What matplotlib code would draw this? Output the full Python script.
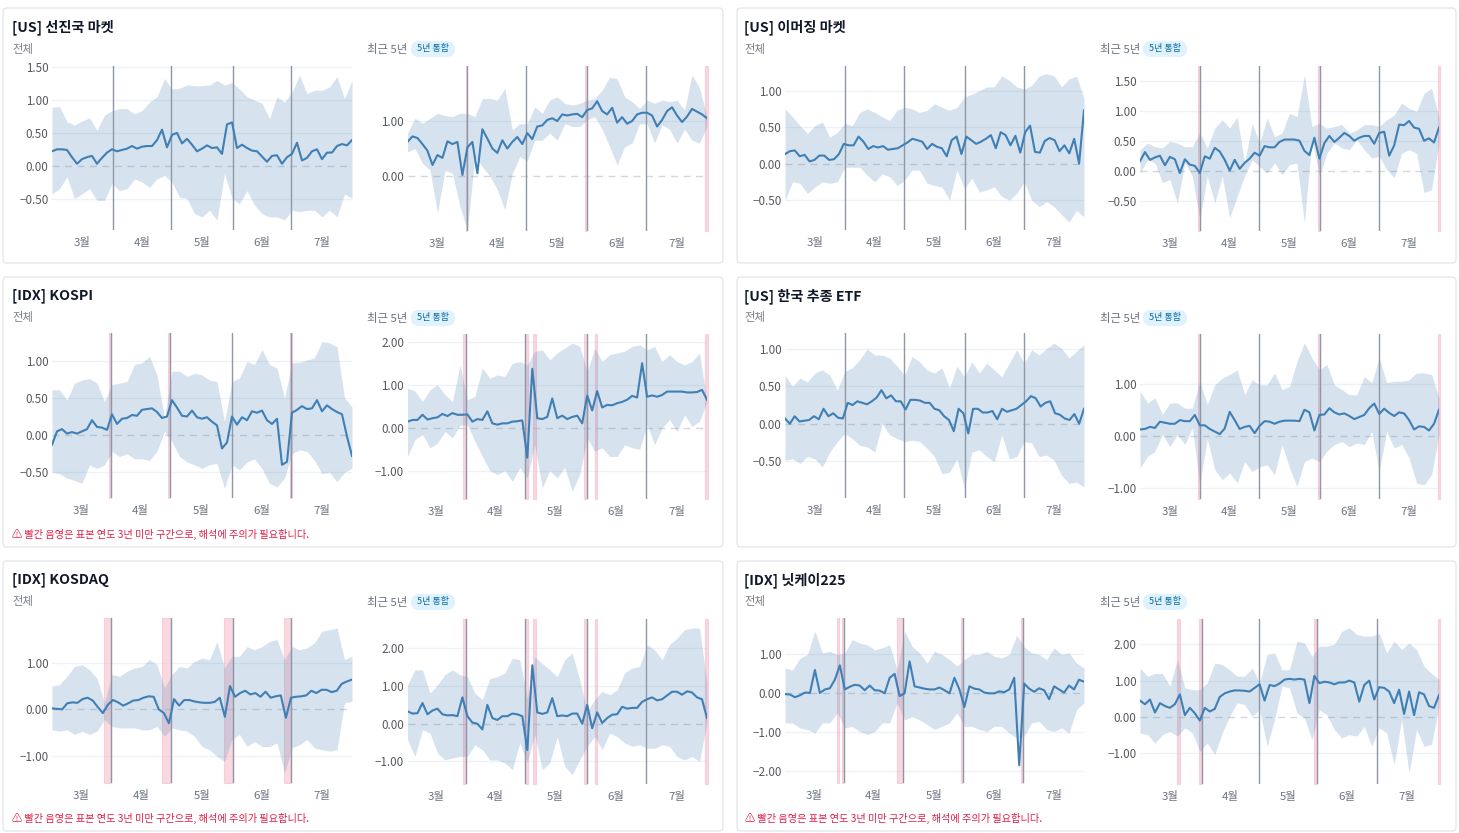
import matplotlib
matplotlib.use('Agg')
import matplotlib.pyplot as plt
from matplotlib.patches import FancyBboxPatch
import numpy as np

plt.rcParams['font.family'] = ['Noto Sans CJK KR', 'DejaVu Sans']
plt.rcParams['axes.unicode_minus'] = True

months = ['3월', '4월', '5월', '6월', '7월']

# [US] 선진국 마켓 - 전체
dev_all_mean = [.22,.25,.25,.24,.13,.03,.10,.13,.15,.03,.12,.20,.25,.22,.24,.26,.30,.26,.29,.30,.30,.39,.55,.28,.47,.50,.34,.41,.32,.22,.26,.31,.27,.28,.18,.63,.66,.27,.32,.27,.23,.22,.14,.06,.15,.16,.03,.13,.18,.35,.08,.12,.22,.25,.10,.20,.20,.30,.33,.31,.39]
dev_all_upper = [.89,.90,.67,.62,.68,.73,.54,.77,.84,.87,.87,.79,.84,.97,1.05,1.33,1.17,1.18,1.23,1.22,1.22,1.23,1.30,1.23,1.27,1.17,1.05,1.0,.95,.72,1.05,.97,1.12,1.38,1.10,1.15,1.15,1.2,1.36,1.02,1.30]
dev_all_lower = [-.43,-.35,-.17,-.50,-.43,-.35,-.53,-.53,-.27,-.38,-.35,-.20,-.25,-.33,-.20,-.15,-.25,-.48,-.50,-.73,-.78,-.68,-.83,-.12,-.50,-.58,-.38,-.60,-.73,-.78,-.78,-.83,-.68,-.70,-.68,-.68,-.78,-.68,-.78,-.43,-.50]
dev_all_gray = [20.2, 39.8, 60.2, 79.8]
dev_all_pink = []
dev_all_ticks = [10.0, 30.0, 50.0, 70.0, 90.0]
dev_all_yticks = [-.5, 0, .5, 1, 1.5]

# [US] 선진국 마켓 - 최근 5년
dev_5y_mean = [.62,.72,.69,.58,.46,.20,.38,.33,.63,.58,.62,.02,.52,.62,.05,.85,.68,.50,.42,.65,.50,.62,.71,.58,.78,.67,.90,.92,1.02,1.05,1.0,1.12,1.10,1.12,1.13,1.07,1.2,1.23,1.36,1.18,1.12,1.24,.97,1.07,.95,1.0,1.12,1.15,1.15,1.10,.9,1.02,1.18,1.25,1.1,.98,1.08,1.22,1.17,1.12,1.05]
dev_5y_upper = [.78,1.05,.96,1.05,1.14,1.1,1.08,1.14,1.14,1.08,1.41,1.41,1.38,1.59,.84,.95,.95,1.26,1.14,1.38,1.44,1.32,1.29,1.32,1.38,1.41,1.56,1.8,1.77,1.44,1.35,1.23,1.38,1.32,1.38,1.35,1.38,1.2,1.84,1.6,1.08]
dev_5y_lower = [.44,.5,.23,.11,-.68,.1,.05,-.56,-.98,.35,.17,0,-.25,-.62,.05,.35,.28,.65,.65,.78,.65,.95,.9,.9,1.02,1.08,.85,.53,.2,.53,.6,.95,.95,.6,.93,.85,.6,.85,.65,.6,.9]
dev_5y_gray = [20.0, 39.6, 59.9, 79.7]
dev_5y_pink = [(19.4, 20.0), (59.3, 60.1), (99.4, 100.3)]
dev_5y_ticks = [9.8, 29.8, 49.9, 70.0, 90.0]
dev_5y_yticks = [0, 1]

# [US] 이머징 마켓 - 전체
em_all_mean = [.13,.17,.18,.10,.12,.03,.05,.11,.11,.05,.06,.13,.27,.25,.25,.37,.30,.20,.24,.22,.24,.19,.20,.21,.25,.29,.34,.32,.30,.20,.27,.23,.21,.10,.32,.37,.13,.37,.32,.27,.30,.34,.39,.21,.43,.39,.25,.38,.15,.43,.52,.16,.15,.31,.35,.32,.17,.25,.14,.34,0,.73]
em_all_upper = [.75,.64,.52,.41,.52,.57,.36,.43,.55,.52,.70,.75,.7,.64,.59,.73,.77,.75,.7,.73,.82,.77,.73,.77,.91,.95,1.0,1.05,1.05,1.2,1.14,1.05,1.02,1.07,1.2,1.23,1.2,1.05,1.16,1.2,.89]
em_all_lower = [-.5,-.25,-.27,-.41,-.32,-.25,-.27,-.25,-.05,-.05,-.05,-.16,-.25,-.14,-.18,-.3,-.23,-.09,-.09,-.27,-.3,-.32,-.5,-.09,-.34,-.2,-.39,-.36,-.32,-.45,-.5,-.41,-.25,-.5,-.59,-.52,-.59,-.7,-.8,-.64,-.73]
em_all_gray = [20.2, 39.8, 60.2, 80.0]
em_all_pink = []
em_all_ticks = [9.9, 29.8, 50.0, 70.0, 90.0]
em_all_yticks = [-.5, 0, .5, 1]

# [US] 이머징 마켓 - 최근 5년
em_5y_mean = [.16,.31,.18,.22,.25,.09,.23,.19,-.04,.19,.10,.08,-.04,.24,.20,.38,.32,.18,.0,.18,.03,.13,.20,.30,.25,.41,.39,.39,.48,.52,.52,.52,.50,.33,.26,.55,.2,.46,.58,.48,.55,.63,.58,.5,.55,.58,.58,.45,.63,.65,.25,.42,.77,.76,.83,.72,.70,.50,.54,.47,.72]
em_5y_upper = [.35,.46,.4,.38,.49,.46,.4,.4,.63,.38,.71,.85,.71,.9,.13,.79,.46,.88,.57,.63,.96,.9,1.6,.74,.79,.71,.74,.77,.63,.68,.77,.77,.74,.85,.93,1.13,1.04,.99,1.29,1.38,.88]
em_5y_lower = [-.04,.18,.13,-.2,-.15,-.54,.13,-.09,-.82,-.09,-.54,-.09,-.79,-.43,-.09,.18,.07,-.04,.13,-.07,.1,.13,-.87,.52,-.09,.29,.46,.38,.35,.52,.35,.21,.24,.02,-.12,.29,.35,.29,-.37,-.32,.46]
em_5y_gray = [20.1, 39.7, 60.2, 79.9]
em_5y_pink = [(19.3, 20.1), (59.5, 60.2), (99.6, 100.3)]
em_5y_ticks = [9.9, 29.9, 50.0, 70.0, 90.0]
em_5y_yticks = [-.5, 0, .5, 1, 1.5]

# [IDX] KOSPI - 전체
kospi_all_mean = [-.13,.05,.08,.02,.04,.02,.05,.08,.20,.11,.10,.07,.28,.15,.22,.23,.27,.26,.34,.35,.36,.31,.23,.25,.47,.37,.26,.25,.33,.24,.22,.24,.18,.13,-.18,-.10,.25,.14,.24,.20,.32,.30,.33,.20,.15,.22,-.40,-.36,.30,.34,.39,.35,.36,.47,.32,.40,.35,.31,.28,-.02,-.28]
kospi_all_upper = [.61,.61,.47,.7,.74,.76,.7,.45,.68,.7,.72,.95,.97,1.06,.81,.23,.86,.86,.79,.83,.81,.74,.72,.18,.72,.77,.99,.95,1.15,.95,.9,.5,.97,.98,1.01,1.04,1.26,1.24,1.19,.5,.38]
kospi_all_lower = [-.5,-.52,-.58,-.61,-.65,-.4,-.45,-.4,-.22,-.29,-.25,-.32,-.32,-.34,-.22,.05,-.09,-.29,-.36,-.4,-.45,-.4,-.38,-.72,-.4,-.47,-.36,-.32,-.45,-.65,-.7,-.58,-.25,-.2,-.22,-.34,-.52,-.5,-.63,-.5,-.45]
kospi_all_gray = [19.6, 39.2, 59.9, 79.7]
kospi_all_pink = [(18.9, 19.6), (38.7, 39.3), (79.2, 79.9)]
kospi_all_ticks = [9.6, 29.5, 49.8, 69.8, 90.0]
kospi_all_yticks = [-.5, 0, .5, 1]

# [IDX] KOSPI - 최근 5년
kospi_5y_mean = [.14,.18,.18,.30,.19,.22,.24,.32,.27,.34,.30,.30,.31,.14,.2,.18,.38,.1,.07,.1,.1,.14,.15,.17,-.7,1.37,.22,.2,.25,.68,.22,.28,.2,.25,.28,.1,.75,.4,.85,.47,.53,.52,.57,.6,.65,.74,.7,1.5,.72,.75,.72,.76,.84,.84,.84,.84,.82,.82,.83,.88,.65]
kospi_5y_upper = [.92,.85,.61,.88,1.0,.77,.61,1.46,.65,.73,1.39,1.15,1.23,1.19,1.5,1.54,1.46,1.78,1.81,1.58,1.74,1.85,1.97,1.89,1.31,1.85,1.54,1.7,1.74,1.78,1.89,1.93,1.81,1.89,1.54,1.7,1.54,1.46,1.54,1.74,.61]
kospi_5y_lower = [-.67,-.28,-.16,-.47,-.36,-.09,-.24,.05,.07,-.32,-.67,-1.0,-1.09,-1.0,-1.25,-.93,-1.17,-.4,-1.4,-1.0,-1.17,-.93,-1.48,-1.09,-.24,-.55,-.47,-.67,-.67,-.4,-.47,-.51,.07,-.4,-.01,.19,-.09,.3,.03,.15,.61]
kospi_5y_gray = [19.4, 39.2, 59.9, 79.6]
kospi_5y_pink = [(18.5, 19.5), (39.1, 40.2), (41.8, 42.8), (59.0, 59.9), (62.5, 63.4), (99.4, 100.3)]
kospi_5y_ticks = [9.5, 29.2, 49.4, 69.7, 90.0]
kospi_5y_yticks = [-1, 0, 1, 2]

# [US] 한국 추종 ETF - 전체
etf_all_mean = [.07,.0,.1,.03,.04,.05,.10,.06,.20,.10,.14,.08,.07,.28,.25,.30,.28,.26,.30,.35,.45,.34,.38,.30,.30,.19,.32,.32,.31,.28,.28,.20,.18,.10,.05,-.10,.2,.14,-.13,.2,.2,.15,.15,.17,.06,.2,.16,.18,.2,.25,.3,.37,.34,.23,.28,.3,.14,.12,.07,.05,.13,0,.2]
etf_all_upper = [.65,.5,.61,.56,.68,.72,.65,.45,.7,.75,.86,1.0,.92,.92,.88,.77,.65,.9,.83,.72,.68,.75,.48,.77,.63,.83,.68,.81,.72,.63,.81,.99,.81,.99,.92,1.01,1.08,1.01,.88,.97,1.06]
etf_all_lower = [-.49,-.47,-.53,-.44,-.47,-.58,-.38,-.24,-.13,-.2,-.29,-.31,-.38,0,-.15,-.2,-.24,-.22,-.24,-.33,-.44,-.67,-.65,-.47,-.87,-.38,-.35,-.44,-.51,-.15,-.47,-.44,-.24,-.26,-.44,-.42,-.49,-.69,-.8,-.78,-.85]
etf_all_gray = [20.2, 39.8, 60.2, 80.0]
etf_all_pink = []
etf_all_ticks = [9.9, 29.8, 50.0, 70.0, 90.0]
etf_all_yticks = [-.5, 0, .5, 1]

# [US] 한국 추종 ETF - 최근 5년
etf_5y_mean = [.12,.13,.17,.15,.27,.25,.23,.23,.3,.28,.28,.4,.2,.2,.13,.08,.03,.14,.46,.3,.13,.17,.19,.05,.19,.28,.27,.23,.27,.29,.29,.29,.28,.5,.45,.1,.4,.41,.53,.45,.41,.43,.38,.32,.36,.4,.53,.62,.42,.52,.44,.38,.45,.43,.3,.12,.18,.17,.1,.23,.5]
etf_5y_upper = [.86,.63,.73,.41,.63,.63,.53,.53,1.05,.6,.98,1.11,1.18,1.27,.79,1.08,.98,.98,1.21,.89,.95,1.43,1.79,1.5,1.27,1.37,.98,.89,.79,.79,1.14,1.02,1.5,1.02,1.05,1.05,1.08,1.21,1.21,1.18,.73]
etf_5y_lower = [-.62,-.4,-.3,.02,-.21,.02,-.17,.15,-.95,-.05,-.65,-.85,-.72,-.91,-.5,-.69,-.6,-.56,-.75,-.17,-.62,-.98,-.5,-.43,-.5,-.3,-.17,-.11,-.21,-.14,-.17,.08,-.69,.08,-.24,-.17,-.43,-.91,-.95,-.75,.02]
etf_5y_gray = [20.1, 39.7, 60.2, 79.9]
etf_5y_pink = [(19.3, 20.1), (59.5, 60.2), (99.6, 100.4)]
etf_5y_ticks = [9.9, 29.9, 50.0, 70.0, 90.0]
etf_5y_yticks = [-1, 0, 1]

# [IDX] KOSDAQ - 전체
kosdaq_all_mean = [.02,.01,.0,.13,.15,.14,.22,.25,.19,.05,-.08,.1,.2,.15,.08,.13,.19,.2,.25,.28,.27,.0,-.08,-.3,.22,.08,.2,.2,.17,.15,.14,.14,.16,.25,-.16,.5,.27,.35,.4,.32,.35,.27,.38,.25,.28,.3,-.18,.25,.27,.28,.3,.4,.35,.42,.42,.37,.4,.55,.6,.64]
kosdaq_all_upper = [.5,.53,.71,.92,.96,.85,.67,.14,.75,.71,.82,.89,.92,1.07,.96,.46,.75,.92,.89,1.03,1.1,1.07,1.46,.89,1.14,1.14,1.35,1.28,1.35,1.46,1.5,1.07,1.35,1.28,1.32,1.43,1.68,1.71,1.75,1.07,1.14]
kosdaq_all_lower = [-.44,-.47,-.44,-.54,-.47,-.54,-.47,-.22,-.37,-.4,-.4,-.4,-.44,-.44,-.37,-.58,-.4,-.44,-.47,-.58,-.8,-.87,-1.01,-1.12,-.65,-.54,-.8,-.69,-.8,-.8,-.72,-1.37,-.83,-.76,-.65,-.83,-.87,-.9,-.87,.14,.17]
kosdaq_all_gray = [19.8, 39.7, 60.3, 79.6]
kosdaq_all_pink = [(17.4, 19.8), (36.7, 39.7), (57.4, 60.3), (77.3, 79.6)]
kosdaq_all_ticks = [9.6, 29.8, 50.0, 69.8, 90.0]
kosdaq_all_yticks = [-1, 0, 1]

# [IDX] KOSDAQ - 최근 5년
kosdaq_5y_mean = [.33,.27,.28,.55,.25,.35,.4,.25,.22,.23,.2,.7,.2,.03,.0,-.15,.5,.15,.1,.2,.2,.27,.25,.2,-.7,1.55,.3,.26,.3,.68,.2,.22,.2,.27,.27,.0,.5,-.12,.3,.02,.15,.24,.25,.45,.4,.42,.42,.58,.65,.7,.62,.65,.75,.85,.85,.77,.86,.83,.7,.65,.15]
kosdaq_5y_upper = [1.03,1.43,1.43,.81,1.03,1.3,1.43,1.3,1.25,.81,.64,1.2,1.25,1.35,1.74,1.7,.68,1.78,1.6,1.43,1.25,1.7,1.88,1.17,.33,.64,.86,.77,.9,1.35,1.48,1.52,2.1,1.96,1.7,2.1,2.27,2.5,2.54,2.54,1.08]
kosdaq_5y_lower = [-.42,-.87,-.16,-.25,-.78,-.96,-.91,-.87,-.87,-.56,-.69,-.96,-.96,-1.04,-1.22,-.51,-1.04,-.29,-1.22,-1.04,-.34,-1.13,-1.35,-.96,-.6,-.34,-.69,-.25,-.34,-.51,-.6,-.56,-.65,-.65,-.56,-.6,-.87,-.96,-.87,-1.0,.02]
kosdaq_5y_gray = [19.4, 39.2, 59.9, 79.6]
kosdaq_5y_pink = [(18.5, 19.5), (39.1, 40.2), (41.8, 42.8), (59.0, 59.9), (62.5, 63.4), (99.4, 100.3)]
kosdaq_5y_ticks = [9.5, 29.2, 49.4, 69.7, 90.0]
kosdaq_5y_yticks = [-1, 0, 1, 2]

# [IDX] 닛케이225 - 전체
nikkei_all_mean = [-.02,-.03,-.1,-.05,.02,.01,.6,.01,.1,.13,.35,.72,.1,.17,.22,.2,.08,.2,.08,.07,.0,.4,.5,-.07,.0,.82,.18,.15,.12,.1,.1,.15,.08,.0,.4,.1,-.35,.18,.12,.1,.02,.0,.0,.05,.03,.1,.4,-1.85,.25,.12,.04,.13,.08,-.15,.18,.1,.02,.2,.1,.35,.3]
nikkei_all_upper = [.65,.6,.9,1.0,1.6,1.04,1.08,1.0,1.04,1.38,1.29,1.25,1.12,1.17,1.25,.6,1.6,1.21,1.04,.78,1.08,1.0,.87,.7,.87,1.0,1.0,1.08,.95,.91,1.0,1.5,1.2,1.04,1.0,.87,1.17,1.0,1.04,.78,.65]
nikkei_all_lower = [-.76,-.76,-.89,-.93,-1.02,-.76,-.76,-.5,-.89,-.85,-.98,-1.06,-.98,-.76,-.76,-.25,-.68,-.6,-.68,-.8,-.93,-.85,-.76,-.5,-.85,-.85,-.93,-.98,-.85,-.85,-1.02,-1.15,-1.1,-.76,-.72,-.93,-.98,-.89,-1.02,-.42,-.25]
nikkei_all_gray = [19.7, 39.6, 59.6, 79.6]
nikkei_all_pink = [(17.4, 18.2), (19.0, 19.7), (37.4, 39.6), (58.8, 59.6), (79.0, 79.6)]
nikkei_all_ticks = [9.7, 29.5, 49.8, 69.9, 90.0]
nikkei_all_yticks = [-2, -1, 0, 1]

# [IDX] 닛케이225 - 최근 5년
nikkei_5y_mean = [.45,.35,.48,.12,.38,.3,.25,.35,.62,.05,.25,.1,-.1,.25,.15,.22,.55,.65,.7,.73,.73,.72,.7,.8,.9,.45,.88,.85,.92,1.03,1.05,1.03,1.05,1.03,.38,1.13,.93,.97,.95,.9,.95,.95,1.0,.95,.42,.88,1.0,.48,.82,.8,.7,.38,.75,.08,.7,.05,.68,.62,.3,.25,.6]
nikkei_5y_upper = [1.35,1.12,1.2,1.2,.85,1.58,.8,.75,.75,.94,1.49,1.44,1.3,1.12,1.12,1.35,.94,1.72,1.77,1.3,1.3,2.09,2.04,1.67,1.95,1.95,2.0,2.36,2.46,2.27,2.23,2.23,2.3,1.77,2.09,1.86,2.04,1.86,1.4,1.2,1.03]
nikkei_5y_lower = [-.44,-.49,-.72,-.49,-.4,-.53,-.3,-.44,-.95,-.72,-1.04,-.44,.02,.39,.34,.02,.2,-.81,-.07,.85,.8,.11,-.03,-.63,.2,.06,-.35,-.58,-.49,-.53,-.26,-.81,-.3,-.44,-1.32,-.07,-1.55,-.35,-.81,-.76,.29]
nikkei_5y_gray = [20.6, 39.9, 59.1, 79.3]
nikkei_5y_pink = [(12.5, 13.3), (19.7, 20.7), (58.3, 59.3), (99.6, 100.4)]
nikkei_5y_ticks = [10.0, 30.3, 49.5, 69.1, 89.4]
nikkei_5y_yticks = [-1, 0, 1, 2]


BAND = '#4682b4'
LINE = '#3f7fb5'
PINK = '#f7b3c2'
GRAY = '#8f97a6'


def draw_panel(fig, box, ylim, mean, upper, lower, gray, pink, ticks, yticks):
    x0, y0, x1, y1 = box
    ax = fig.add_axes([x0/1459, 1 - y1/833, (x1 - x0)/1459, (y1 - y0)/833])
    ax.patch.set_alpha(0)
    for side in ax.spines.values():
        side.set_visible(False)
    for lo, hi in pink:
        ax.axvspan(lo, hi, fc=PINK, ec=PINK, alpha=0.5, lw=0.8, clip_on=False, zorder=1)
    for v in yticks:
        if v != 0:
            ax.axhline(v, color='#eef1f6', lw=1, zorder=0.5)
    ax.axhline(0, color='#d3d7de', lw=1, ls=(0, (5, 4)), zorder=0.5)
    band_x = np.linspace(0, 100, len(upper))
    ax.fill_between(band_x, lower, upper, color=BAND, alpha=0.22, lw=0, zorder=2)
    for g in gray:
        ax.axvline(g, color=GRAY, lw=1.0, zorder=3)
    ax.plot(np.linspace(0, 100, len(mean)), mean, color=LINE, lw=1.5, zorder=4)
    ax.set_xlim(0, 100)
    ax.set_ylim(*ylim)
    ax.set_xticks(ticks)
    ax.set_xticklabels(months, fontsize=8.2, color='#6b7280')
    ax.set_yticks(yticks)
    ax.set_yticklabels([f'{v:.2f}'.replace('-', '\u2212') for v in yticks], fontsize=8.4, color='#55595f')
    ax.tick_params(axis='both', length=0)
    ax.tick_params(axis='x', pad=5)
    ax.tick_params(axis='y', pad=2.5)


fig = plt.figure(figsize=(14.59, 8.33), dpi=100)
bg = fig.add_axes([0, 0, 1, 1], zorder=-1)
bg.set_xlim(0, 1459)
bg.set_ylim(833, 0)
bg.axis('off')

# card outer boxes
rows = [(8, 263), (277, 547), (561, 831)]
cols = [(3, 723), (737, 1456)]
for top, bottom in rows:
    for left, right in cols:
        bg.add_patch(FancyBboxPatch((left, top), right - left, bottom - top,
                                    boxstyle='round,pad=0,rounding_size=4',
                                    fc='white', ec='#e5e7eb', lw=1))

titles = [['[US] 선진국 마켓', '[US] 이머징 마켓'],
          ['[IDX] KOSPI', '[US] 한국 추종 ETF'],
          ['[IDX] KOSDAQ', '[IDX] 닛케이225']]
title_y = [27, 296, 580]
warn_y = [534, 818]
warning = '\u26a0 빨간 음영은 표본 연도 3년 미만 구간으로, 해석에 주의가 필요합니다.'

for r in range(3):
    for c in range(2):
        tx = [12, 744.5][c]
        sx = [367, 1100][c]
        px = [411, 1143][c]
        ty = title_y[r]
        bg.text(tx, ty, titles[r][c], fontsize=10.2, fontweight='bold', color='#111827', va='center')
        bg.text(tx, ty + 22, '전체', fontsize=8.2, color='#7b7f87', va='center')
        bg.text(sx, ty + 22.5, '최근 5년', fontsize=8.2, color='#6b7280', va='center')
        bg.add_patch(FancyBboxPatch((px, ty + 14), 44, 16,
                                    boxstyle='round,pad=0,rounding_size=8',
                                    fc='#e0f2fe', ec='none'))
        bg.text(px + 22, ty + 21.5, '5년 통합', fontsize=6.5, color='#0369a1', ha='center', va='center')

bg.text(12, warn_y[0], warning, fontsize=7.3, color='#e11d48', va='center')
bg.text(12, warn_y[1], warning, fontsize=7.3, color='#e11d48', va='center')
bg.text(745, warn_y[1], warning, fontsize=7.3, color='#e11d48', va='center')

draw_panel(fig, (52, 66, 352, 230), (-.98, 1.52), dev_all_mean, dev_all_upper, dev_all_lower, dev_all_gray, dev_all_pink, dev_all_ticks, dev_all_yticks)
draw_panel(fig, (407.5, 66, 707, 231), (-1, 2), dev_5y_mean, dev_5y_upper, dev_5y_lower, dev_5y_gray, dev_5y_pink, dev_5y_ticks, dev_5y_yticks)
draw_panel(fig, (785, 66, 1084, 230), (-.909, 1.336), em_all_mean, em_all_upper, em_all_lower, em_all_gray, em_all_pink, em_all_ticks, em_all_yticks)
draw_panel(fig, (1140, 66, 1439, 231), (-1.01, 1.75), em_5y_mean, em_5y_upper, em_5y_lower, em_5y_gray, em_5y_pink, em_5y_ticks, em_5y_yticks)

draw_panel(fig, (52, 333, 352, 498), (-.847, 1.374), kospi_all_mean, kospi_all_upper, kospi_all_lower, kospi_all_gray, kospi_all_pink, kospi_all_ticks, kospi_all_yticks)
draw_panel(fig, (407.5, 334, 707, 499), (-1.66, 2.18), kospi_5y_mean, kospi_5y_upper, kospi_5y_lower, kospi_5y_gray, kospi_5y_pink, kospi_5y_ticks, kospi_5y_yticks)
draw_panel(fig, (785, 333, 1084, 498), (-.995, 1.215), etf_all_mean, etf_all_upper, etf_all_lower, etf_all_gray, etf_all_pink, etf_all_ticks, etf_all_yticks)
draw_panel(fig, (1140, 334, 1439, 499), (-1.22, 1.96), etf_5y_mean, etf_5y_upper, etf_5y_lower, etf_5y_gray, etf_5y_pink, etf_5y_ticks, etf_5y_yticks)

draw_panel(fig, (52, 618, 352, 783), (-1.584, 1.964), kosdaq_all_mean, kosdaq_all_upper, kosdaq_all_lower, kosdaq_all_gray, kosdaq_all_pink, kosdaq_all_ticks, kosdaq_all_yticks)
draw_panel(fig, (407.5, 619, 707, 784), (-1.6, 2.78), kosdaq_5y_mean, kosdaq_5y_upper, kosdaq_5y_lower, kosdaq_5y_gray, kosdaq_5y_pink, kosdaq_5y_ticks, kosdaq_5y_yticks)
draw_panel(fig, (785, 618, 1084, 783), (-2.305, 1.937), nikkei_all_mean, nikkei_all_upper, nikkei_all_lower, nikkei_all_gray, nikkei_all_pink, nikkei_all_ticks, nikkei_all_yticks)
draw_panel(fig, (1140, 619, 1439, 784), (-1.85, 2.70), nikkei_5y_mean, nikkei_5y_upper, nikkei_5y_lower, nikkei_5y_gray, nikkei_5y_pink, nikkei_5y_ticks, nikkei_5y_yticks)

fig.savefig('out.png', dpi=100)
